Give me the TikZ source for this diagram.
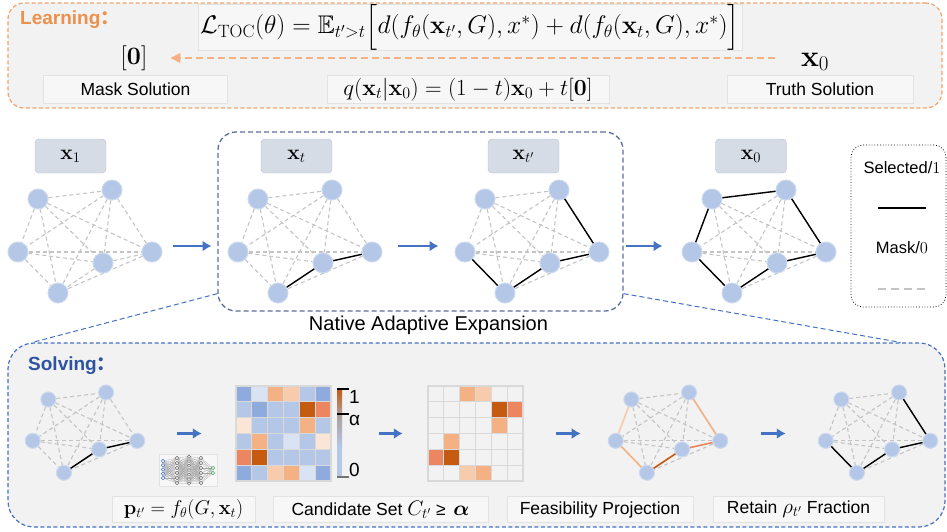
\RequirePackage{fix-cm}
\documentclass[tikz,border=0pt]{standalone}
\usepackage{amsmath,amssymb}
\usepackage[no-math]{fontspec}
\setmainfont{Liberation Sans}
\newfontfamily\cjkfont{Noto Sans CJK SC}
\usepackage{tikz}
\usetikzlibrary{arrows.meta, positioning, backgrounds}
\definecolor{vtxfill}{HTML}{B4C7E7}
\definecolor{vtxline}{HTML}{CCD9EE}
\definecolor{maskgray}{HTML}{C4C4C4}
\definecolor{flowblue}{HTML}{4472C4}
\definecolor{panel}{HTML}{F2F2F2}
\definecolor{capfill}{HTML}{F7F7F7}
\definecolor{capline}{HTML}{E3E3E3}
\definecolor{learnorange}{HTML}{EB914C}
\definecolor{learnline}{HTML}{F0A46A}
\definecolor{solveblue}{HTML}{2E54A1}
\definecolor{naeline}{HTML}{5A6E9C}
\definecolor{tagfill}{HTML}{D6DCE5}
\definecolor{tagline}{HTML}{B5BFCC}
\definecolor{cellline}{HTML}{D9D9D9}
\definecolor{netgreen}{HTML}{3FA34D}
% heat map levels, cold to hot
\definecolor{hmA}{HTML}{8FAADC}
\definecolor{hmB}{HTML}{B4C7E7}
\definecolor{hmC}{HTML}{DAE3F3}
\definecolor{hmD}{HTML}{FBE5D6}
\definecolor{hmE}{HTML}{F8CBAD}
\definecolor{hmF}{HTML}{F4B183}
\definecolor{hmG}{HTML}{EC8661}
\definecolor{hmH}{HTML}{C55A11}
\definecolor{hmN}{HTML}{F2F2F2}
\definecolor{barmid}{HTML}{AE9C9A}
\tikzset{
  vtx/.style={circle, fill=vtxfill, draw=vtxline, line width=1pt, minimum size=20pt, inner sep=0pt},
  svtx/.style={vtx, minimum size=15pt},
  maskedge/.style={draw=maskgray, line width=1.1pt, dash pattern=on 4pt off 3pt},
  seledge/.style={draw=black, line width=1.4pt},
  cand/.style={draw=#1, line width=1.6pt},
  flowarrow/.style={-{Latex[length=9pt, width=11pt]}, line width=2.6pt, color=flowblue},
  learnarrow/.style={-{Triangle[length=10pt, width=10pt]}, draw=hmF, line width=1.6pt, dash pattern=on 7pt off 4pt},
  tag/.style={rectangle, draw=tagline, fill=tagfill, rounded corners=4pt, minimum width=71pt, minimum height=34pt, font=\fontsize{21}{24}\selectfont},
  capbox/.style={rectangle, draw=capline, fill=capfill, minimum height=28pt, inner sep=0pt, font=\fontsize{17.5}{20}\selectfont},
  txt/.style={font=\fontsize{16.5}{19}\selectfont, inner sep=1pt},
  heading/.style={font=\fontsize{19}{22}\selectfont\bfseries, inner sep=0pt, anchor=west},
  learnframe/.style={draw=learnline, fill=panel, line width=1.2pt, dash pattern=on 4pt off 2.5pt, rounded corners=16pt},
  solveframe/.style={draw=flowblue, fill=panel, line width=1.2pt, dash pattern=on 4pt off 2.5pt, rounded corners=26pt},
  naeframe/.style={draw=naeline, line width=1.3pt, dash pattern=on 5pt off 3pt, rounded corners=18pt},
  zoomline/.style={draw=flowblue, line width=1pt, dash pattern=on 5pt off 3pt},
  keybox/.style={draw=black, dotted, line width=0.8pt, rounded corners=12pt},
  netwire/.style={draw=black!35, line width=0.25pt},
}
% six vertices #1-a..#1-f around (#2,#3), every pair joined by a masked edge
\newcommand{\drawgraph}[5]{%
  \begin{scope}[shift={(#2,#3)}, scale=#4]
    \node[#5] (#1-a) at (-47,-43) {};
    \node[#5] (#1-b) at (27,-52) {};
    \node[#5] (#1-c) at (-67,10) {};
    \node[#5] (#1-d) at (18,21) {};
    \node[#5] (#1-e) at (67,10) {};
    \node[#5] (#1-f) at (-27,51) {};
  \end{scope}
  \begin{scope}[on background layer]
    \foreach \u/\v in {a/b,a/c,a/d,a/e,a/f,b/c,b/d,b/e,b/f,c/d,c/e,c/f,d/e,d/f,e/f}
      \draw[maskedge] (#1-\u) -- (#1-\v);
  \end{scope}
}
\begin{document}
\begin{tikzpicture}[x=1pt, y=-1pt]
  \useasboundingbox (0,0) rectangle (947,531);

  % panels
  \begin{scope}[on background layer]
    \node[learnframe, minimum width=934pt, minimum height=105pt] (learn) at (475,55.5) {};
    \node[solveframe, minimum width=937pt, minimum height=184pt] (solve) at (476.5,435) {};
    \node[naeframe, minimum width=405pt, minimum height=179pt] (nae) at (420.5,221.5) {};
  \end{scope}

  % learning
  \node[heading, text=learnorange] (learnhd) at (20,20) {Learning{\cjkfont ：}};
  \node[capbox, minimum width=544pt, minimum height=44pt, font=\fontsize{25.5}{26}\selectfont] (loss) at (470,27)
    {$\mathcal{L}_{\mathrm{TOC}}(\theta)=\mathbb{E}_{t'>t}\Big[d(f_\theta(\mathbf{x}_{t'},G),x^*)+d(f_\theta(\mathbf{x}_t,G),x^*)\Big]$};
  \node[font=\fontsize{25}{28}\selectfont, inner sep=1pt] (zero) at (134,58) {$[\mathbf{0}]$};
  \node[font=\fontsize{30}{32}\selectfont, inner sep=1pt] (truth) at (815,62) {$\mathbf{x}_0$};
  \node[capbox, minimum width=184pt] (maskcap) at (135.5,89.5) {Mask Solution};
  \node[capbox, minimum width=282pt, font=\fontsize{23}{26}\selectfont] (qcap) at (468,89.5)
    {$q(\mathbf{x}_t|\mathbf{x}_0)=(1-t)\mathbf{x}_0+t[\mathbf{0}]$};
  \node[capbox, minimum width=186pt] (truthcap) at (820,89.5) {Truth Solution};
  \draw[learnarrow, shorten <=25pt, shorten >=22pt] (truth.west |- zero) -- (zero.east);

  % expansion x_1 -> x_t -> x_t' -> x_0
  \drawgraph{ga}{85}{242}{1}{vtx}
  \drawgraph{gb}{305}{242}{1}{vtx}
  \drawgraph{gc}{532}{242}{1}{vtx}
  \drawgraph{gd}{759}{242}{1}{vtx}
  \node[tag] (tx1) at (70.5,156) {$\mathbf{x}_1$};
  \node[tag] (txt) at (296.5,156) {$\mathbf{x}_t$};
  \node[tag] (txs) at (523.5,156) {$\mathbf{x}_{t'}$};
  \node[tag] (tx0) at (751,156) {$\mathbf{x}_0$};
  \draw[seledge] (gb-f) -- (gb-d) -- (gb-e);
  \draw[seledge] (gc-c) -- (gc-f) -- (gc-d) -- (gc-e) -- (gc-b);
  \draw[seledge] (gd-a) -- (gd-b) -- (gd-e) -- (gd-d) -- (gd-f) -- (gd-c) -- (gd-a);
  \draw[flowarrow, shorten <=10pt, shorten >=16pt] ([yshift=6pt]ga-e.east) -- ([yshift=6pt]gb-c.west);
  \draw[flowarrow, shorten <=15pt, shorten >=16pt] ([yshift=6pt]gb-e.east) -- ([yshift=6pt]gc-c.west);
  \draw[flowarrow, shorten <=16pt, shorten >=19pt] ([yshift=6pt]gc-e.east) -- ([yshift=6pt]gd-c.west);
  \node[txt, font=\fontsize{20}{24}\selectfont, below=3pt of nae, xshift=8pt] (naelbl) {Native Adaptive Expansion};
  \draw[zoomline] ([yshift=18pt]nae.south west) -- ([xshift=25pt]solve.north west);
  \draw[zoomline] ([yshift=18pt]nae.south east) -- ([xshift=-45pt]solve.north east);

  % legend
  \node[keybox, minimum width=95pt, minimum height=162pt] (key) at (898.5,226) {};
  \node[txt] (keysel) at (902,168) {Selected/$1$};
  \node[txt] (keymask) at (902,248) {Mask/$0$};
  \coordinate (selL) at (878,208);
  \coordinate (selR) at (926,208);
  \coordinate (maskL) at (878,289);
  \coordinate (maskR) at (926,289);
  \draw[seledge, line width=2pt] (selL) -- (selR);
  \draw[maskedge, line width=2pt, dash pattern=on 8pt off 5pt] (maskL) -- (maskR);

  % solving
  \node[heading, text=solveblue] (solvehd) at (28,366) {Solving{\cjkfont ：}};
  \drawgraph{sa}{85}{433}{0.78}{svtx}
  \drawgraph{sb}{668}{433}{0.78}{svtx}
  \drawgraph{sc}{878}{433}{0.78}{svtx}
  \draw[seledge] (sa-f) -- (sa-d) -- (sa-e);
  \draw[cand=hmE] (sb-a) -- (sb-c);
  \draw[cand=hmF] (sb-c) -- (sb-f);
  \draw[cand=hmH] (sb-f) -- (sb-d);
  \draw[cand=hmG] (sb-d) -- (sb-e);
  \draw[cand=hmF] (sb-e) -- (sb-b);
  \draw[seledge] (sc-c) -- (sc-f) -- (sc-d) -- (sc-e) -- (sc-b);

  % edge scores and the cells kept above alpha
  \node[minimum size=95pt, inner sep=0pt] (heat) at (283.5,433.5) {};
  \node[minimum size=95pt, inner sep=0pt] (cands) at (475.5,433.5) {};
  \foreach \cells [count=\i] in {{hmA,hmC,hmF,hmE,hmB,hmA},{hmB,hmA,hmB,hmB,hmH,hmG},{hmD,hmB,hmB,hmB,hmF,hmB},
                                 {hmB,hmF,hmB,hmC,hmB,hmD},{hmG,hmH,hmB,hmB,hmB,hmB},{hmA,hmB,hmE,hmF,hmC,hmA}}
    \foreach \hue [count=\j] in \cells
      \filldraw[fill=\hue, draw=cellline, line width=1.2pt] ({236+(\j-1)*15.83},{386+(\i-1)*15.83}) rectangle ++(15.83,15.83);
  \foreach \cells [count=\i] in {{hmN,hmN,hmF,hmE,hmN,hmN},{hmN,hmN,hmN,hmN,hmH,hmG},{hmN,hmN,hmN,hmN,hmF,hmN},
                                 {hmN,hmF,hmN,hmN,hmN,hmN},{hmG,hmH,hmN,hmN,hmN,hmN},{hmN,hmN,hmE,hmF,hmN,hmN}}
    \foreach \hue [count=\j] in \cells
      \filldraw[fill=\hue, draw=cellline, line width=1.2pt] ({428+(\j-1)*15.83},{386+(\i-1)*15.83}) rectangle ++(15.83,15.83);

  % colour bar
  \shade[top color=hmH, bottom color=barmid] (337,389) rectangle (342,414);
  \shade[top color=barmid, bottom color=hmB] (337,414) rectangle (342,447);
  \fill[hmB] (337,447) rectangle (342,477);
  \draw[black, line width=1.2pt] (337,389) -- (349,389);
  \draw[black, line width=1.2pt] (337,414) -- (349,414);
  \draw[black!55, line width=1.2pt] (337,477) -- (349,477);
  \node[anchor=west, inner sep=0pt, font=\fontsize{19}{22}\selectfont] (bar1) at (349,397) {1};
  \node[anchor=west, inner sep=0pt, font=\fontsize{19}{22}\selectfont] (bara) at (349,420) {α};
  \node[anchor=west, inner sep=0pt, font=\fontsize{19}{22}\selectfont] (bar0) at (349,470) {0};

  % network icon
  \node[capbox, minimum width=58pt, minimum height=32pt] (net) at (188.5,470.5) {};
  \foreach \ya in {461,465.25,469.5,473.75,478}
    \foreach \yb in {458,463,468,473,478,483}
      \draw[netwire] (163,\ya) -- (177,\yb);
  \foreach \ya in {458,463,468,473,478,483}
    \foreach \yb in {456.5,461,465.5,470,474.5,479,483.5}
      \draw[netwire] (177,\ya) -- (189,\yb) (201,\ya) -- (189,\yb);
  \foreach \ya in {458,463,468,473,478,483}
    \foreach \yb in {468,473}
      \draw[netwire] (201,\ya) -- (213,\yb);
  \foreach \y in {461,465.25,469.5,473.75,478}
    \draw[flowblue, fill=white, line width=0.5pt] (163,\y) circle (1.8pt);
  \foreach \y in {458,463,468,473,478,483}
    \draw[black!60, fill=white, line width=0.5pt] (177,\y) circle (1.8pt) (201,\y) circle (1.8pt);
  \foreach \y in {456.5,461,465.5,470,474.5,479,483.5}
    \draw[black!60, fill=white, line width=0.5pt] (189,\y) circle (1.6pt);
  \foreach \y in {468,473}
    \draw[netgreen, fill=white, line width=0.5pt] (213,\y) circle (1.8pt);

  \draw[flowarrow, shorten <=32pt, shorten >=34pt] (sa-e.east |- heat) -- (heat.west);
  \draw[flowarrow, shorten <=48pt, shorten >=25pt] (heat.east) -- (cands.west);
  \draw[flowarrow, shorten <=33pt, shorten >=27pt] (cands.east) -- (sb-c.west |- cands);
  \draw[flowarrow, shorten <=33pt, shorten >=32pt] (sb-e.east |- cands) -- (sc-c.west |- cands);

  \node[capbox, minimum height=26pt, minimum width=143pt, font=\fontsize{20}{24}\selectfont] (pcap) at (183.5,509.5)
    {$\mathbf{p}_{t'}=f_\theta(G,\mathbf{x}_t)$};
  \node[capbox, minimum height=26pt, minimum width=215pt] (ccap) at (380.5,509.5)
    {Candidate Set {\fontsize{21}{24}\selectfont$C_{t'}$} ≥\, {\fontsize{21}{24}\selectfont$\boldsymbol{\alpha}$}};
  \node[capbox, minimum height=26pt, minimum width=186pt] (fcap) at (600,509.5) {Feasibility Projection};
  \node[capbox, minimum height=26pt, minimum width=171pt] (rcap) at (798.5,509.5)
    {Retain {\fontsize{21}{24}\selectfont$\rho_{t'}$} Fraction};
\end{tikzpicture}
\end{document}
